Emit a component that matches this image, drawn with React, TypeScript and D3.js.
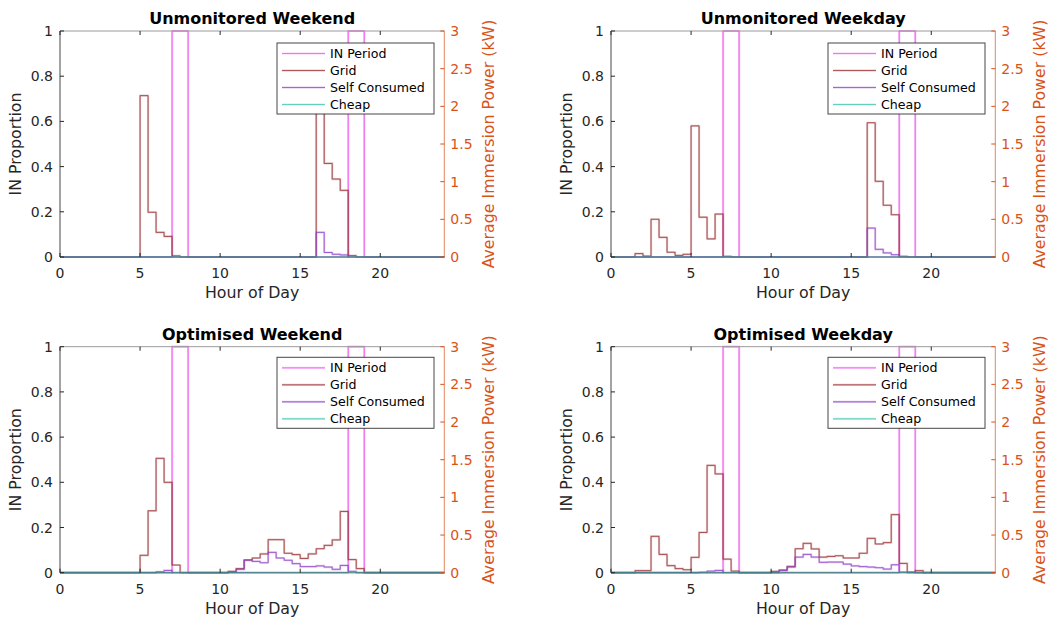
import React from 'react';
import * as d3 from 'd3';

// ---------- data ----------
const TITLES = ['Unmonitored Weekend', 'Unmonitored Weekday', 'Optimised Weekend', 'Optimised Weekday'];
const BIN_WIDTH = 0.5; // hours per bin
const X_TICKS = [0, 5, 10, 15, 20];
const Y_TICKS = [0, 0.2, 0.4, 0.6, 0.8, 1];
const Y2_TICKS = [0, 0.5, 1, 1.5, 2, 2.5, 3];
const Y2_TICK_LABELS = ['0', '0.5', '1', '1.5', '2', '2.5', '3'];
const IN_PERIODS = [[7, 8], [18, 19]];
const LEGEND_LABELS = ['IN Period', 'Grid', 'Self Consumed', 'Cheap'];

const UNMON_WEEKEND_GRID = [
  0, 0, 0, 0, 0, 0, 0, 0, 0, 0, 0.714, 0.198,
  0.109, 0.091, 0.005, 0, 0, 0, 0, 0, 0, 0, 0, 0,
  0, 0, 0, 0, 0, 0, 0, 0, 0.72, 0.414, 0.345, 0.295,
  0.006, 0, 0, 0, 0, 0, 0, 0, 0, 0, 0, 0,
];
const UNMON_WEEKEND_SELF = [
  0, 0, 0, 0, 0, 0, 0, 0, 0, 0, 0, 0,
  0, 0, 0, 0, 0, 0, 0, 0, 0, 0, 0, 0,
  0, 0, 0, 0, 0, 0, 0, 0, 0.109, 0.02, 0.012, 0.009,
  0, 0, 0, 0, 0, 0, 0, 0, 0, 0, 0, 0,
];
const UNMON_WEEKDAY_GRID = [
  0, 0, 0, 0.015, 0.004, 0.167, 0.087, 0.021, 0.007, 0.012, 0.58, 0.176,
  0.08, 0.19, 0.003, 0, 0, 0, 0, 0, 0, 0, 0, 0,
  0, 0, 0, 0, 0, 0, 0, 0, 0.594, 0.335, 0.229, 0.187,
  0.003, 0, 0, 0, 0, 0, 0, 0, 0, 0, 0, 0,
];
const UNMON_WEEKDAY_SELF = [
  0, 0, 0, 0, 0, 0, 0, 0, 0, 0, 0, 0,
  0, 0, 0, 0, 0, 0, 0, 0, 0, 0, 0, 0,
  0, 0, 0, 0, 0, 0, 0, 0, 0.128, 0.034, 0.018, 0.01,
  0, 0, 0, 0, 0, 0, 0, 0, 0, 0, 0, 0,
];
const OPT_WEEKEND_GRID = [
  0, 0, 0, 0, 0, 0, 0, 0, 0, 0, 0.077, 0.274,
  0.506, 0.4, 0.034, 0, 0, 0, 0, 0, 0, 0.006, 0.018, 0.056,
  0.065, 0.083, 0.146, 0.146, 0.086, 0.08, 0.063, 0.083, 0.106, 0.121, 0.145, 0.271,
  0.058, 0.018, 0, 0, 0, 0, 0, 0, 0, 0, 0, 0,
];
const OPT_WEEKEND_SELF = [
  0, 0, 0, 0, 0, 0, 0, 0, 0, 0, 0, 0,
  0.004, 0.01, 0, 0, 0, 0, 0, 0, 0, 0.003, 0.015, 0.056,
  0.05, 0.044, 0.09, 0.065, 0.055, 0.04, 0.027, 0.027, 0.03, 0.025, 0.015, 0.032,
  0.006, 0, 0, 0, 0, 0, 0, 0, 0, 0, 0, 0,
];
const OPT_WEEKDAY_GRID = [
  0, 0, 0, 0.009, 0.009, 0.161, 0.081, 0.031, 0.018, 0.013, 0.068, 0.178,
  0.475, 0.437, 0.06, 0.007, 0, 0, 0, 0, 0.006, 0.012, 0.028, 0.106,
  0.13, 0.105, 0.069, 0.072, 0.075, 0.065, 0.065, 0.086, 0.152, 0.127, 0.133, 0.257,
  0.041, 0.003, 0.009, 0, 0, 0, 0, 0, 0, 0, 0, 0,
];
const OPT_WEEKDAY_SELF = [
  0, 0, 0, 0, 0, 0, 0, 0, 0, 0, 0, 0.002,
  0.007, 0.01, 0, 0, 0, 0, 0, 0, 0, 0.009, 0.025, 0.069,
  0.081, 0.069, 0.046, 0.047, 0.047, 0.038, 0.03, 0.027, 0.025, 0.022, 0.016, 0.035,
  0.003, 0, 0, 0, 0, 0, 0, 0, 0, 0, 0, 0,
];
const CHEAP = new Array(48).fill(0);

const GRID_SERIES = [UNMON_WEEKEND_GRID, UNMON_WEEKDAY_GRID, OPT_WEEKEND_GRID, OPT_WEEKDAY_GRID];
const SELF_SERIES = [UNMON_WEEKEND_SELF, UNMON_WEEKDAY_SELF, OPT_WEEKEND_SELF, OPT_WEEKDAY_SELF];

// ---------- style ----------
const FONT = '"DejaVu Sans", Verdana, sans-serif';
const AX = '#262626';
const ORANGE = '#D95319';
const C_IN = '#EE4FEE';
const C_GRID = '#9A3134';
const C_SELF = '#8E3FC8';
const C_CHEAP = '#3FC4B0';

const COL_X = [60, 611];
const ROW_Y = [31, 346.7];
const PW = 384.3;
const PH = 226;

function stairs(values: number[]): [number, number][] {
  const pts: [number, number][] = values.map((v, i) => [i * BIN_WIDTH, v]);
  pts.push([values.length * BIN_WIDTH, values[values.length - 1]]);
  return pts;
}

function Panel({ idx }: { idx: number }) {
  const x0 = COL_X[idx % 2];
  const y0 = ROW_Y[Math.floor(idx / 2)];
  const x = d3.scaleLinear().domain([0, 24]).range([x0, x0 + PW]);
  const y = d3.scaleLinear().domain([0, 1]).range([y0 + PH, y0]);
  const y2 = d3.scaleLinear().domain([0, 3]).range([y0 + PH, y0]);
  const line = d3
    .line<[number, number]>()
    .x((d) => x(d[0]))
    .y((d) => y(d[1]))
    .curve(d3.curveStepAfter);

  const inVals = d3.range(0, 24, BIN_WIDTH).map((h) =>
    IN_PERIODS.some(([a, b]) => h >= a && h < b) ? 1 : 0
  );
  const series = [
    { vals: inVals, color: C_IN, halo: 0.35 },
    { vals: GRID_SERIES[idx], color: C_GRID, halo: 0.25 },
    { vals: SELF_SERIES[idx], color: C_SELF, halo: 0.25 },
    { vals: CHEAP, color: C_CHEAP, halo: 0.25 },
  ];
  const tl = 4;
  const lgX = x0 + 217;
  const lgY = y0 + (idx < 2 ? 12 : 10.6);
  const lgW = 157;
  const lgH = 71;

  return (
    <g>
      {series.map((s, i) => (
        <g key={i}>
          <path d={line(stairs(s.vals)) || ''} fill="none" stroke={s.color} strokeOpacity={s.halo} strokeWidth={2.2} />
          <path d={line(stairs(s.vals)) || ''} fill="none" stroke={s.color} strokeOpacity={0.9} strokeWidth={0.9} />
        </g>
      ))}
      <line x1={x0} x2={x0 + PW} y1={y0} y2={y0} stroke="#9a9a9a" strokeWidth={1} />
      <line x1={x0} x2={x0 + PW} y1={y0 + PH} y2={y0 + PH} stroke={AX} strokeOpacity={0.35} strokeWidth={1} />
      <line x1={x0} x2={x0} y1={y0} y2={y0 + PH} stroke={AX} strokeOpacity={0.85} strokeWidth={1} />
      <line x1={x0 + PW} x2={x0 + PW} y1={y0} y2={y0 + PH} stroke={ORANGE} strokeOpacity={0.7} strokeWidth={1} />
      {X_TICKS.map((t) => (
        <g key={'x' + t}>
          <line x1={x(t)} x2={x(t)} y1={y0 + PH} y2={y0 + PH - tl} stroke={AX} />
          <line x1={x(t)} x2={x(t)} y1={y0} y2={y0 + tl} stroke={AX} />
          <text x={x(t)} y={y0 + PH + 21} textAnchor="middle" fontSize={14} fill={AX} fontFamily={FONT}>
            {t}
          </text>
        </g>
      ))}
      {Y_TICKS.map((t) => (
        <g key={'y' + t}>
          <line x1={x0} x2={x0 + tl} y1={y(t)} y2={y(t)} stroke={AX} />
          <text x={x0 - 7} y={y(t)} dy="0.36em" textAnchor="end" fontSize={14} fill={AX} fontFamily={FONT}>
            {String(t)}
          </text>
        </g>
      ))}
      {Y2_TICKS.map((t, i) => (
        <g key={'r' + t}>
          <line x1={x0 + PW} x2={x0 + PW - tl} y1={y2(t)} y2={y2(t)} stroke={ORANGE} />
          <text x={x0 + PW + 6} y={y2(t)} dy="0.36em" textAnchor="start" fontSize={14} fill={ORANGE} fontFamily={FONT}>
            {Y2_TICK_LABELS[i]}
          </text>
        </g>
      ))}
      <text x={x0 + PW / 2} y={y0 - 7} textAnchor="middle" fontSize={16} fontWeight="bold" fill="#000" fontFamily={FONT}>
        {TITLES[idx]}
      </text>
      <text x={x0 + PW / 2} y={y0 + PH + 41} textAnchor="middle" fontSize={15.8} fill={AX} fontFamily={FONT}>
        Hour of Day
      </text>
      <text
        transform={`translate(${x0 - 39},${y0 + PH / 2}) rotate(-90)`}
        textAnchor="middle"
        fontSize={15.8}
        fill={AX}
        fontFamily={FONT}
      >
        IN Proportion
      </text>
      <text
        transform={`translate(${x0 + PW + 50},${y0 + PH / 2}) rotate(-90)`}
        textAnchor="middle"
        fontSize={15.8}
        fill={ORANGE}
        fontFamily={FONT}
      >
        Average Immersion Power (kW)
      </text>
      <rect x={lgX} y={lgY} width={lgW} height={lgH} fill="#fff" stroke={AX} strokeOpacity={0.85} strokeWidth={1} />
      {LEGEND_LABELS.map((lab, i) => {
        const cy = lgY + 10.5 + i * 17;
        const c = series[i].color;
        return (
          <g key={lab}>
            <line x1={lgX + 5} x2={lgX + 48} y1={cy} y2={cy} stroke={c} strokeOpacity={0.3} strokeWidth={2.2} />
            <line x1={lgX + 5} x2={lgX + 48} y1={cy} y2={cy} stroke={c} strokeWidth={0.9} strokeOpacity={0.8} />
            <text x={lgX + 53} y={cy} dy="0.36em" fontSize={12.6} fill="#000" fontFamily={FONT}>
              {lab}
            </text>
          </g>
        );
      })}
    </g>
  );
}

export default function App() {
  return (
    <svg
      width={1053}
      height={619}
      viewBox="0 0 1053 619"
      style={{ position: 'absolute', left: 0, top: 0, display: 'block', background: '#fff' }}
    >
      <rect x={0} y={0} width={1053} height={619} fill="#fff" />
      {[0, 1, 2, 3].map((i) => (
        <Panel key={i} idx={i} />
      ))}
    </svg>
  );
}
